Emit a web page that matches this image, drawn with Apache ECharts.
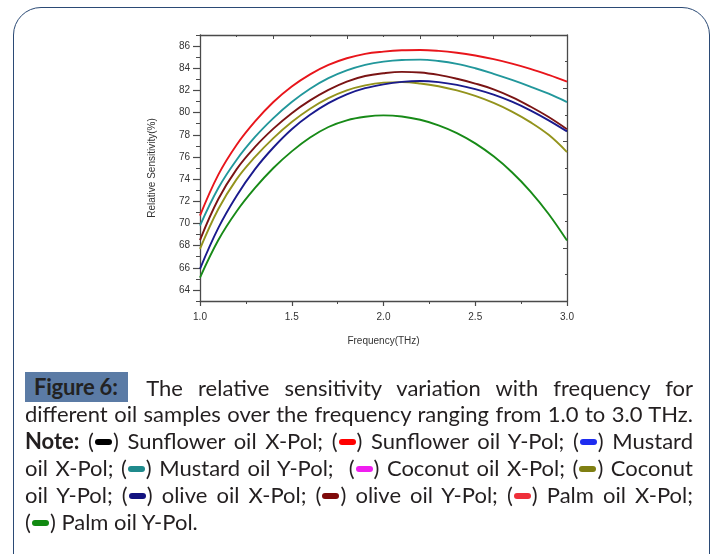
<!DOCTYPE html>
<html>
<head>
<meta charset="utf-8">
<script src="https://cdn.jsdelivr.net/npm/echarts@6/dist/echarts.min.js"></script>
<style>
  html, body { margin: 0; padding: 0; background: #fff; }
  #wrap { position: relative; width: 718px; height: 554px; overflow: hidden; }
  #card { position: absolute; left: 13px; top: 7px; width: 697px; height: 580px;
          border: 1.6px solid #2b4a75; border-radius: 28px; box-sizing: border-box; }
  #chart { position: absolute; left: 0; top: 0; width: 718px; height: 554px; }
  #cap { position: absolute; left: 25px; top: 373px; width: 668px;
         font-family: Lato, "Open Sans", sans-serif; font-size: 22px; line-height: 27px; color: #231f20; }
  #cap .ln { white-space: nowrap; text-align: justify; text-align-last: justify; height: 27px; }
  #cap .ln.last { text-align-last: left; }
  #cap .fig { display: inline-block; background: #5b7ba5; font-weight: bold; color: #222;
              line-height: 30px; height: 30px; padding: 0 10px 0 9px; margin-right: 4px;
              position: relative; top: -1px; letter-spacing: -0.2px; }
  #cap .sw { display: inline-block; width: 17px; height: 6px; border-radius: 3px;
             vertical-align: middle; margin: 0 1px; position: relative; top: -1px; }
</style>
</head>
<body>
<div id="wrap">
  <div id="card"></div>
  <div id="chart"></div>
  <div id="cap">
    <div class="ln"><span class="fig">Figure 6:</span> The relative sensitivity variation with frequency for</div>
    <div class="ln">different oil samples over the frequency ranging from 1.0 to 3.0 THz.</div>
    <div class="ln"><b>Note:</b> (<i class="sw" style="background:#000"></i>) Sunflower oil X-Pol; (<i class="sw" style="background:#f00"></i>) Sunflower oil Y-Pol; (<i class="sw" style="background:#1e2cf0"></i>) Mustard</div>
    <div class="ln">oil X-Pol; (<i class="sw" style="background:#1f8a8c"></i>) Mustard oil Y-Pol;&nbsp; (<i class="sw" style="background:#f01ef0"></i>) Coconut oil X-Pol; (<i class="sw" style="background:#7f7f12"></i>) Coconut</div>
    <div class="ln">oil Y-Pol; (<i class="sw" style="background:#12127f"></i>) olive oil X-Pol; (<i class="sw" style="background:#7f0a0a"></i>) olive oil Y-Pol; (<i class="sw" style="background:#ef2f3a"></i>) Palm oil X-Pol;</div>
    <div class="ln last">(<i class="sw" style="background:#118a11"></i>) Palm oil Y-Pol.</div>
  </div>
</div>
<script>
// Frequency samples (THz)
const freq = [1.0, 1.1, 1.2, 1.3, 1.4, 1.5, 1.6, 1.7, 1.8, 1.9, 2.0,
              2.1, 2.2, 2.3, 2.4, 2.5, 2.6, 2.7, 2.8, 2.9, 3.0];

// Relative sensitivity (%) of each curve
const redCurve    = [70.7, 74.4, 77.1, 79.2, 80.95, 82.35, 83.45, 84.3, 84.9, 85.3, 85.5,
                     85.62, 85.65, 85.57, 85.4, 85.15, 84.82, 84.42, 83.95, 83.4, 82.8];
const tealCurve   = [69.8, 73.2, 75.75, 77.8, 79.5, 80.95, 82.15, 83.1, 83.8, 84.3, 84.6,
                     84.75, 84.78, 84.65, 84.4, 84.0, 83.5, 82.95, 82.35, 81.7, 80.95];
const maroonCurve = [68.5, 72.2, 74.9, 76.9, 78.55, 79.95, 81.1, 82.05, 82.8, 83.3, 83.55,
                     83.67, 83.62, 83.4, 83.05, 82.62, 82.1, 81.4, 80.55, 79.6, 78.5];
const oliveCurve  = [67.7, 71.3, 74.0, 76.0, 77.7, 79.15, 80.35, 81.3, 82.0, 82.45, 82.7,
                     82.75, 82.63, 82.38, 82.0, 81.5, 80.87, 80.09, 79.14, 77.99, 76.44];
const navyCurve   = [65.9, 69.6, 72.5, 74.9, 76.85, 78.5, 79.8, 80.85, 81.65, 82.2, 82.55,
                     82.77, 82.85, 82.75, 82.5, 82.12, 81.62, 80.98, 80.2, 79.3, 78.3];
const greenCurve  = [65.1, 68.5, 71.1, 73.2, 75.0, 76.5, 77.75, 78.7, 79.3, 79.62, 79.75,
                     79.65, 79.35, 78.85, 78.15, 77.22, 76.05, 74.62, 72.9, 70.85, 68.45];

const seriesList = [
  { name: 'Red', values: redCurve, color: '#e8151b' },
  { name: 'Teal', values: tealCurve, color: '#22979b' },
  { name: 'Maroon', values: maroonCurve, color: '#7a1414' },
  { name: 'Olive', values: oliveCurve, color: '#93931c' },
  { name: 'Navy', values: navyCurve, color: '#1a1a8d' },
  { name: 'Green', values: greenCurve, color: '#178a17' }
];

// Axis ticks
const yMajorTicks = [64, 66, 68, 70, 72, 74, 76, 78, 80, 82, 84, 86];
const yMinorTicks = [63, 65, 67, 69, 71, 73, 75, 77, 79, 81, 83, 85, 87];

const axisColor = '#4a4a4a';
const labelFont = { fontFamily: 'Liberation Sans, Arial, sans-serif', fontSize: 10, color: '#333' };

const chart = echarts.init(document.getElementById('chart'), null, { renderer: 'canvas' });
chart.setOption({
  animation: false,
  grid: { left: 200, top: 35, right: 151, bottom: 253 },
  xAxis: [
    {
      type: 'value', position: 'bottom', min: 1, max: 3, interval: 0.5,
      axisLine: { lineStyle: { color: axisColor, width: 1.3 } },
      axisTick: { inside: false, length: 5, lineStyle: { color: axisColor, width: 1.2 } },
      minorTick: { show: true, splitNumber: 2, length: 3, lineStyle: { color: axisColor, width: 1 } },
      axisLabel: Object.assign({ margin: 11, formatter: v => v.toFixed(1) }, labelFont),
      splitLine: { show: false },
      name: 'Frequency(THz)', nameLocation: 'middle', nameGap: 35,
      nameTextStyle: Object.assign({}, labelFont)
    },
    {
      type: 'value', position: 'top', min: 0, max: 10, interval: 2,
      axisLine: { lineStyle: { color: axisColor, width: 1.3 } },
      axisTick: { inside: true, length: 4, lineStyle: { color: axisColor, width: 1 } },
      minorTick: { show: true, splitNumber: 2, length: 2, lineStyle: { color: axisColor, width: 1 } },
      axisLabel: { show: false }, splitLine: { show: false }
    }
  ],
  yAxis: [
    {
      type: 'value', position: 'left', min: 63, max: 87,
      axisLine: { show: true, lineStyle: { color: axisColor, width: 1.3 } },
      axisTick: { show: true, inside: false, length: 7, customValues: yMajorTicks,
                  lineStyle: { color: axisColor, width: 1.2 } },
      axisLabel: Object.assign({ margin: 10, customValues: yMajorTicks }, labelFont),
      splitLine: { show: false },
      name: 'Relative Sensitivity(%)', nameLocation: 'middle', nameRotate: 90, nameGap: 43,
      nameTextStyle: Object.assign({}, labelFont)
    },
    {
      type: 'value', position: 'left', min: 63, max: 87,
      axisLine: { show: false },
      axisTick: { show: true, inside: false, length: 4, customValues: yMinorTicks,
                  lineStyle: { color: axisColor, width: 1 } },
      axisLabel: { show: false }, splitLine: { show: false }
    },
    {
      type: 'value', position: 'right', min: 0, max: 10, interval: 2,
      axisLine: { show: true, lineStyle: { color: axisColor, width: 1.3 } },
      axisTick: { show: true, inside: true, length: 4, lineStyle: { color: axisColor, width: 1 } },
      minorTick: { show: true, splitNumber: 2, length: 2, lineStyle: { color: axisColor, width: 1 } },
      axisLabel: { show: false }, splitLine: { show: false }
    }
  ],
  series: seriesList.map(s => ({
    name: s.name,
    type: 'line',
    xAxisIndex: 0,
    yAxisIndex: 0,
    smooth: 0.4,
    showSymbol: false,
    lineStyle: { color: s.color, width: 1.9 },
    data: freq.map((f, i) => [f, s.values[i]])
  }))
});
</script>
</body>
</html>
